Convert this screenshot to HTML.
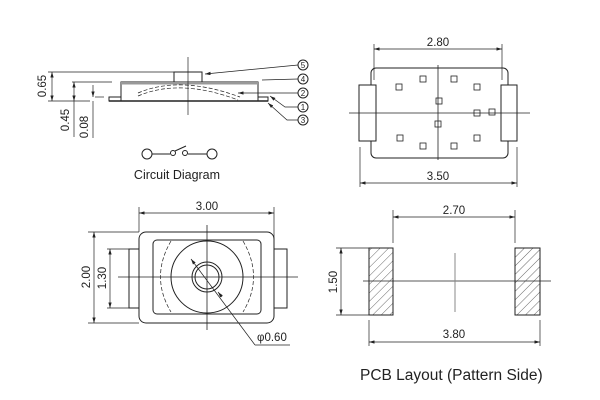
<!DOCTYPE html>
<html><head><style>body{margin:0;background:#fff}svg{display:block}text{font-family:"Liberation Sans",sans-serif;fill:#222}</style></head><body>
<svg width="600" height="400" viewBox="0 0 600 400" xmlns="http://www.w3.org/2000/svg">
<defs>
<marker id="a" viewBox="0 0 10 6" refX="10" refY="3" markerWidth="8" markerHeight="5" orient="auto-start-reverse"><path d="M0,0 L10,3 L0,6 z" fill="#222"/></marker>
<pattern id="h" width="6" height="6" patternUnits="userSpaceOnUse" patternTransform="rotate(45)"><line x1="0" y1="0" x2="0" y2="6" stroke="#444" stroke-width="0.8"/></pattern>
</defs>
<g stroke="#222" stroke-width="1" fill="none">
<rect x="174" y="72" width="28" height="10"/>
<rect x="121" y="82" width="137" height="19"/>
<rect x="121" y="82" width="137" height="2.5" fill="#999" stroke="none"/>
<line x1="109" y1="101" x2="268" y2="101" stroke-width="1.5"/>
<rect x="109" y="97" width="12" height="4"/>
<rect x="258" y="97" width="10" height="4"/>
<path d="M138,93 Q180,75 240,97" stroke-dasharray="4,2" stroke-width="0.7"/>
<path d="M138,96 Q180,78 238,100" stroke-dasharray="4,2" stroke-width="0.7"/>
<line x1="188" y1="57" x2="188" y2="115" stroke-width="0.7"/>
<line x1="48" y1="72" x2="174" y2="72" stroke-width="0.7"/>
<line x1="48" y1="101" x2="90" y2="101" stroke-width="0.7"/>
<line x1="72" y1="82" x2="112" y2="82" stroke-width="0.7"/>
<line x1="95" y1="97" x2="104" y2="97" stroke-width="0.7"/>
<line x1="52" y1="72" x2="52" y2="101" stroke-width="0.7" marker-start="url(#a)" marker-end="url(#a)"/>
<line x1="74" y1="82" x2="74" y2="101" stroke-width="0.7" marker-start="url(#a)" marker-end="url(#a)"/>
<line x1="93" y1="85" x2="93" y2="97" stroke-width="0.7" marker-end="url(#a)"/>
<line x1="93" y1="101" x2="93" y2="138" stroke-width="0.7"/>
<line x1="74" y1="101" x2="74" y2="137" stroke-width="0.7"/>
<line x1="298" y1="65" x2="205" y2="74" stroke-width="0.7" marker-end="url(#a)"/>
<line x1="298" y1="79" x2="262" y2="80" stroke-width="0.7"/>
<line x1="298" y1="93" x2="238" y2="93" stroke-width="0.7" marker-end="url(#a)"/>
<polyline points="298,107 285,107 270,96" stroke-width="0.7" marker-end="url(#a)"/>
<polyline points="298,120 287,120 268,103" stroke-width="0.7" marker-end="url(#a)"/>
<circle cx="303" cy="65" r="5"/><circle cx="303" cy="79" r="5"/><circle cx="303" cy="93" r="5"/><circle cx="303" cy="107" r="5"/><circle cx="303" cy="120" r="5"/>
<circle cx="147" cy="154" r="5"/><circle cx="173" cy="153" r="2.5"/><circle cx="185" cy="153" r="2.5"/><circle cx="212" cy="154" r="5"/>
<line x1="152" y1="154" x2="170" y2="154"/><line x1="188" y1="154" x2="207" y2="154"/><line x1="175" y1="151" x2="186" y2="146"/>
<rect x="371" y="68" width="137" height="90" rx="5"/>
<rect x="359" y="85" width="17" height="56" fill="#fff"/>
<rect x="501" y="85" width="16" height="56" fill="#fff"/>
<line x1="349" y1="113" x2="530" y2="113" stroke-width="0.8"/>
<line x1="438" y1="65" x2="438" y2="160" stroke-width="0.8"/>
<line x1="374" y1="44" x2="374" y2="80" stroke-width="0.7"/><line x1="502" y1="44" x2="502" y2="80" stroke-width="0.7"/>
<line x1="374" y1="49" x2="502" y2="49" stroke-width="0.7" marker-start="url(#a)" marker-end="url(#a)"/>
<line x1="360" y1="147" x2="360" y2="187" stroke-width="0.7"/><line x1="517" y1="147" x2="517" y2="187" stroke-width="0.7"/>
<line x1="360" y1="183" x2="517" y2="183" stroke-width="0.7" marker-start="url(#a)" marker-end="url(#a)"/>
<g stroke-width="0.8">
<rect x="396" y="84" width="6" height="6"/><rect x="420" y="76" width="6" height="6"/><rect x="451" y="76" width="6" height="6"/><rect x="474" y="84" width="6" height="6"/>
<rect x="436" y="98" width="6" height="6"/><rect x="474" y="110" width="6" height="6"/><rect x="489" y="109" width="6" height="6"/><rect x="435" y="121" width="6" height="6"/>
<rect x="397" y="135" width="6" height="6"/><rect x="420" y="143" width="6" height="6"/><rect x="451" y="143" width="6" height="6"/><rect x="474" y="135" width="6" height="6"/>
</g>
<rect x="129" y="249" width="10" height="59"/><rect x="274" y="249" width="13" height="59"/>
<rect x="139" y="232" width="135" height="91" rx="7" fill="#fff"/>
<rect x="153" y="240" width="108" height="74" rx="4"/>
<path d="M171,241 Q150,277 171,312" stroke-dasharray="4,2" stroke-width="0.7"/>
<path d="M243,241 Q264,277 243,312" stroke-dasharray="4,2" stroke-width="0.7"/>
<circle cx="207" cy="277" r="36"/><circle cx="207" cy="277" r="15"/><circle cx="207" cy="277" r="12"/>
<line x1="118" y1="277" x2="298" y2="277" stroke-width="0.8"/><line x1="207" y1="225" x2="207" y2="330" stroke-width="0.8"/>
<line x1="139" y1="207" x2="139" y2="232" stroke-width="0.7"/><line x1="274" y1="207" x2="274" y2="240" stroke-width="0.7"/>
<line x1="139" y1="213" x2="274" y2="213" stroke-width="0.7" marker-start="url(#a)" marker-end="url(#a)"/>
<line x1="88" y1="232" x2="139" y2="232" stroke-width="0.7"/><line x1="88" y1="323" x2="139" y2="323" stroke-width="0.7"/>
<line x1="94" y1="232" x2="94" y2="323" stroke-width="0.7" marker-start="url(#a)" marker-end="url(#a)"/>
<line x1="107" y1="249" x2="129" y2="249" stroke-width="0.7"/><line x1="107" y1="308" x2="129" y2="308" stroke-width="0.7"/>
<line x1="110" y1="249" x2="110" y2="308" stroke-width="0.7" marker-start="url(#a)" marker-end="url(#a)"/>
<polyline points="255,345 191,259" stroke-width="0.7" marker-end="url(#a)"/>
<line x1="218" y1="292" x2="222" y2="297" stroke-width="0.7" marker-start="url(#a)"/>
<line x1="255" y1="345" x2="290" y2="345" stroke-width="0.7"/>
<rect x="369" y="248" width="24" height="67" fill="url(#h)"/><rect x="515" y="248" width="25" height="67" fill="url(#h)"/>
<line x1="363" y1="281" x2="551" y2="281" stroke-width="0.8"/>
<line x1="455" y1="253" x2="455" y2="312" stroke="#888"/>
<line x1="393" y1="210" x2="393" y2="243" stroke-width="0.7"/><line x1="515" y1="210" x2="515" y2="243" stroke-width="0.7"/>
<line x1="393" y1="217" x2="515" y2="217" stroke-width="0.7" marker-start="url(#a)" marker-end="url(#a)"/>
<line x1="336" y1="248" x2="369" y2="248" stroke-width="0.7"/><line x1="336" y1="315" x2="369" y2="315" stroke-width="0.7"/>
<line x1="341" y1="248" x2="341" y2="315" stroke-width="0.7" marker-start="url(#a)" marker-end="url(#a)"/>
<line x1="369" y1="320" x2="369" y2="346" stroke-width="0.7"/><line x1="540" y1="320" x2="540" y2="346" stroke-width="0.7"/>
<line x1="369" y1="342" x2="540" y2="342" stroke-width="0.7" marker-start="url(#a)" marker-end="url(#a)"/>
</g>
<g font-size="11.5">
<text transform="translate(46,86) rotate(-90)" text-anchor="middle">0.65</text>
<text transform="translate(69,120) rotate(-90)" text-anchor="middle">0.45</text>
<text transform="translate(88,127) rotate(-90)" text-anchor="middle">0.08</text>
<g font-size="8" text-anchor="middle"><text x="303" y="68">5</text><text x="303" y="82">4</text><text x="303" y="96">2</text><text x="303" y="110">1</text><text x="303" y="123">3</text></g>
<text x="177" y="179" text-anchor="middle" font-size="12.5">Circuit Diagram</text>
<text x="438" y="46" text-anchor="middle">2.80</text>
<text x="438" y="180" text-anchor="middle">3.50</text>
<text x="207" y="210" text-anchor="middle">3.00</text>
<text transform="translate(90,277) rotate(-90)" text-anchor="middle">2.00</text>
<text transform="translate(106,278) rotate(-90)" text-anchor="middle">1.30</text>
<text x="257" y="341">φ0.60</text>
<text x="454" y="214" text-anchor="middle">2.70</text>
<text transform="translate(337,282) rotate(-90)" text-anchor="middle">1.50</text>
<text x="454" y="338" text-anchor="middle">3.80</text>
<text x="360" y="380" font-size="15.5">PCB Layout (Pattern Side)</text>
</g>
</svg>
</body></html>
